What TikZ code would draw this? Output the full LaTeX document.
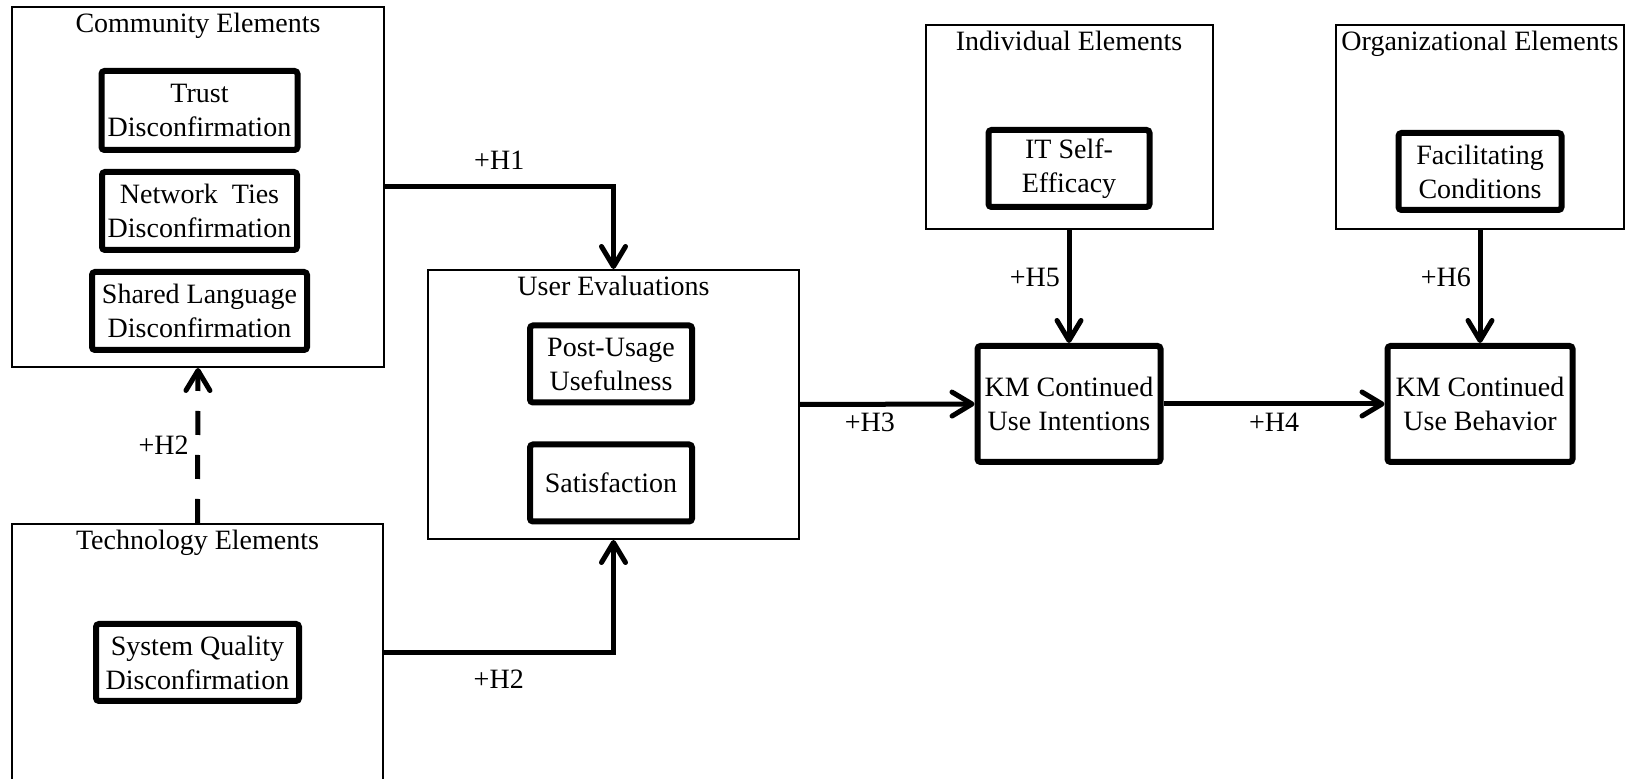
\documentclass[tikz,border=0pt]{standalone}
\usepackage{fontspec}
\setmainfont{Liberation Serif}
\usetikzlibrary{arrows.meta,positioning}
\tikzset{group/.style={draw, line width=1pt, inner sep=0pt}}
\tikzset{construct/.style={draw, line width=3pt, align=center, inner sep=2pt, rounded corners=1.5pt, minimum width=81pt, minimum height=38.5pt}}
\tikzset{heading/.style={anchor=base, inner sep=0pt}}
\tikzset{hyp/.style={line width=2.5pt, -{Straight Barb[length=10pt, width=12pt, round]}}}
\tikzset{tentative/.style={hyp, dash pattern=on 12pt off 10pt}}

\begin{document}
\begin{tikzpicture}[x=0.5pt, y=-0.5pt, node distance=8pt, font=\fontsize{14pt}{17pt}\selectfont]
\useasboundingbox (0,0) rectangle (1633,779);
\clip (0,0) rectangle (1633,779);
% Nodes
\node (comm) [group, minimum width=186pt, minimum height=180pt] at (198,187) {};
\node [heading] at ([yshift=-13.5pt]comm.north) {Community Elements};
\node (trust) [construct, minimum width=98pt, minimum height=39.5pt] at (199.5,110.5) {Trust\\Disconfirmation};
\node (ties) [construct, minimum width=97.5pt, minimum height=39pt, below=of trust] {Network\ \ Ties\\Disconfirmation};
\node (lang) [construct, minimum width=107.5pt, minimum height=39pt, below=of ties] {Shared Language\\Disconfirmation};

\node (tech) [group, minimum width=185.5pt, minimum height=128.5pt] at (197.5,652.5) {};
\node [heading] at ([yshift=-13.5pt]tech.north) {Technology Elements};
\node (sysq) [construct, minimum width=101.5pt] at (197.5,662.5) {System Quality\\Disconfirmation};

\node (eval) [group, minimum width=185.5pt, minimum height=134.5pt] at (613.5,404.5) {};
\node [heading] at ([yshift=-13.5pt]eval.north) {User Evaluations};
\node (useful) [construct] at (611,364) {Post-Usage\\Usefulness};
\node (satis) [construct, below=18pt of useful] {Satisfaction};

\node (indiv) [group, minimum width=143.5pt, minimum height=102pt] at (1069,127) {};
\node [heading] at ([yshift=-13.5pt]indiv.north) {Individual Elements};
\node (selfeff) [construct, minimum width=80.5pt] at (1069,168.5) {IT Self-\\Efficacy};
\node (intent) [construct, minimum width=91.5pt, minimum height=58pt] at (1069,404) {KM Continued\\Use Intentions};

\node (org) [group, minimum width=144pt, minimum height=102pt] at (1480,127) {};
\node [heading] at ([yshift=-13.5pt]org.north) {Organizational Elements};
\node (facil) [construct, minimum width=81.5pt] at (1480,171.5) {Facilitating\\Conditions};
\node (behav) [construct, minimum width=92.5pt, minimum height=58pt] at (1480,404) {KM Continued\\Use Behavior};

% Connectors
\begin{scope}[hyp]
\draw (comm.east) -| node[pos=0.25, above=4pt] {+H1} (eval.north);
\draw (tech.east) -| node[pos=0.25, below=4pt] {+H2} (eval.south);
\draw (eval.east) -- node[pos=0.4, below] {+H3} (intent.west);
\draw (intent.east) -- node[midway, below] {+H4} (behav.west);
\draw (indiv.south) -- node[pos=0.42, left] {+H5} (intent.north);
\draw (org.south) -- node[pos=0.42, left] {+H6} (behav.north);
\draw [tentative] (tech.north) -- node[midway, left] {+H2} (comm.south);
\end{scope}

\end{tikzpicture}
\end{document}
